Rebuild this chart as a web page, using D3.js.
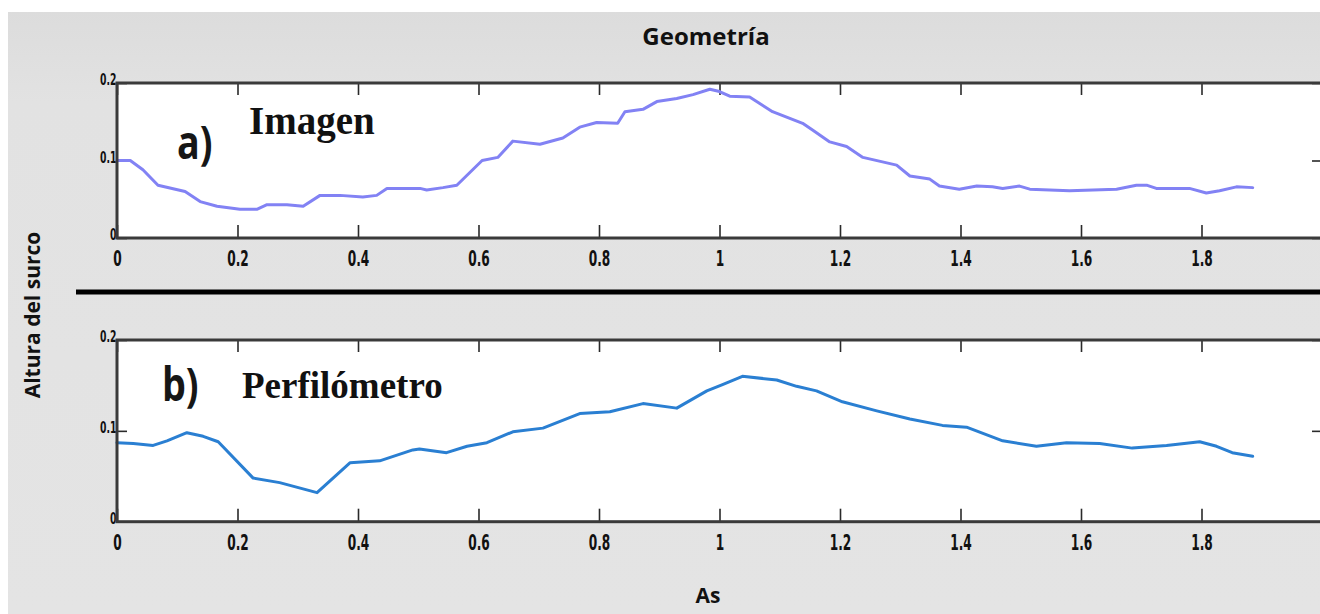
<!DOCTYPE html>
<html>
<head>
<meta charset="utf-8">
<script src="https://cdn.jsdelivr.net/npm/d3@7"></script>
<style>
  html, body { margin: 0; padding: 0; background: #ffffff; }
  svg { display: block; }
</style>
</head>
<body>
<svg id="chart" width="1320" height="614"></svg>
<script>
// ---------------- data ----------------
const xTicks = [0, 0.2, 0.4, 0.6, 0.8, 1, 1.2, 1.4, 1.6, 1.8];
const xTickLabels = ["0", "0.2", "0.4", "0.6", "0.8", "1", "1.2", "1.4", "1.6", "1.8"];
const yTicks = [0, 0.1, 0.2];
const yTickLabels = ["0", "0.1", "0.2"];

// a) Imagen
const imagenX = [0, 0.022, 0.043, 0.068, 0.113, 0.138, 0.166, 0.204, 0.232, 0.249, 0.282, 0.309,
  0.337, 0.370, 0.408, 0.431, 0.448, 0.503, 0.514, 0.541, 0.564, 0.606, 0.632, 0.657, 0.702,
  0.740, 0.768, 0.796, 0.831, 0.843, 0.873, 0.896, 0.929, 0.956, 0.984, 1.000, 1.017, 1.050,
  1.088, 1.138, 1.155, 1.183, 1.211, 1.238, 1.294, 1.316, 1.349, 1.365, 1.398, 1.427, 1.453,
  1.470, 1.498, 1.515, 1.581, 1.659, 1.692, 1.710, 1.725, 1.780, 1.808, 1.830, 1.858, 1.885];
const imagenY = [0.100, 0.100, 0.088, 0.068, 0.060, 0.047, 0.041, 0.037, 0.037, 0.043, 0.043, 0.041,
  0.055, 0.055, 0.053, 0.055, 0.064, 0.064, 0.062, 0.065, 0.068, 0.100, 0.104, 0.125, 0.121,
  0.129, 0.143, 0.149, 0.148, 0.163, 0.166, 0.176, 0.180, 0.185, 0.192, 0.189, 0.183, 0.182,
  0.163, 0.148, 0.139, 0.124, 0.118, 0.104, 0.094, 0.080, 0.076, 0.067, 0.063, 0.067, 0.066,
  0.064, 0.067, 0.063, 0.061, 0.063, 0.068, 0.068, 0.064, 0.064, 0.058, 0.061, 0.066, 0.065];

// b) Perfilómetro
const perfilX = [0, 0.027, 0.060, 0.083, 0.116, 0.143, 0.168, 0.226, 0.270, 0.332, 0.387, 0.436,
  0.491, 0.502, 0.547, 0.581, 0.614, 0.657, 0.707, 0.768, 0.818, 0.873, 0.929, 0.979, 1.005,
  1.038, 1.095, 1.128, 1.161, 1.204, 1.261, 1.316, 1.370, 1.410, 1.470, 1.526, 1.576, 1.631,
  1.685, 1.742, 1.797, 1.825, 1.851, 1.885];
const perfilY = [0.087, 0.086, 0.084, 0.089, 0.098, 0.094, 0.088, 0.048, 0.043, 0.032, 0.065, 0.067,
  0.079, 0.080, 0.076, 0.083, 0.087, 0.099, 0.103, 0.119, 0.121, 0.130, 0.125, 0.144, 0.151,
  0.160, 0.156, 0.149, 0.144, 0.132, 0.122, 0.113, 0.106, 0.104, 0.089, 0.083, 0.087, 0.086,
  0.081, 0.084, 0.088, 0.083, 0.076, 0.072];

const title = "Geometría";
const xTitle = "As";
const yTitle = "Altura del surco";

// ---------------- drawing ----------------
const svg = d3.select("#chart");
const W = 1320, H = 614;

svg.append("rect").attr("x", 0).attr("y", 0).attr("width", W).attr("height", H).attr("fill", "#ffffff");
const defs = svg.append("defs");
const grad = defs.append("linearGradient").attr("id", "bg").attr("x1", 0).attr("y1", 0).attr("x2", 0).attr("y2", 1);
grad.append("stop").attr("offset", "0%").attr("stop-color", "#dcdcdc");
grad.append("stop").attr("offset", "15%").attr("stop-color", "#e2e2e2");
grad.append("stop").attr("offset", "100%").attr("stop-color", "#e4e4e4");
svg.append("rect").attr("x", 8).attr("y", 12).attr("width", W - 8).attr("height", H - 12).attr("fill", "url(#bg)");

const x = d3.scaleLinear().domain([0, 2]).range([117, 1322]);

const panels = [
  { xs: imagenX, ys: imagenY, top: 83, bottom: 238, color: "#8282f4", tag: "a)", name: "Imagen",
    tagPos: [177, 159], namePos: [249, 134], nameSize: 39 },
  { xs: perfilX, ys: perfilY, top: 340, bottom: 521.7, color: "#2a7fd2", tag: "b)", name: "Perfilómetro",
    tagPos: [162, 401], namePos: [242, 398], nameSize: 37 }
];

const tickFont = "'DejaVu Sans', 'Liberation Sans', sans-serif";

panels.forEach(p => {
  const y = d3.scaleLinear().domain([0, 0.2]).range([p.bottom, p.top]);
  const g = svg.append("g");

  // plot background
  g.append("rect").attr("x", x(0)).attr("y", y(0.2)).attr("width", x(2) - x(0)).attr("height", y(0) - y(0.2))
    .attr("fill", "#ffffff");

  // bottom axis with labels
  const gb = g.append("g").attr("transform", `translate(0,${y(0)})`)
    .call(d3.axisBottom(x).tickValues(xTicks).tickFormat((d, i) => xTickLabels[i]).tickSize(-13).tickPadding(13));
  // top axis ticks
  const gt = g.append("g").attr("transform", `translate(0,${y(0.2)})`)
    .call(d3.axisTop(x).tickValues(xTicks).tickFormat("").tickSize(-12));
  // left axis
  const gl = g.append("g").attr("transform", `translate(${x(0)},0)`)
    .call(d3.axisLeft(y).tickValues(yTicks).tickFormat((d, i) => yTickLabels[i]).tickSize(-10).tickPadding(1));
  // right axis ticks
  const gr = g.append("g").attr("transform", `translate(${x(2)},0)`)
    .call(d3.axisRight(y).tickValues(yTicks).tickFormat("").tickSize(-10));

  [gb, gt, gl, gr].forEach(a => {
    a.select(".domain").remove();
    a.selectAll(".tick line").attr("stroke", "#2a2a2a").attr("stroke-width", 1.6);
  });
  gb.selectAll(".tick text")
    .attr("font-family", tickFont).attr("font-weight", "bold").attr("font-size", 21)
    .attr("fill", "#111").attr("transform", "scale(0.58,1)");
  gl.selectAll(".tick text")
    .attr("font-family", tickFont).attr("font-weight", "bold").attr("font-size", 16)
    .attr("dy", "0.12em")
    .attr("fill", "#111").attr("transform", "scale(0.58,1)");

  // series line
  const pts = p.xs.map((v, i) => [v, p.ys[i]]);
  g.append("path").datum(pts)
    .attr("fill", "none").attr("stroke", p.color).attr("stroke-width", 3)
    .attr("stroke-linejoin", "round").attr("stroke-linecap", "round")
    .attr("d", d3.line().x(d => x(d[0])).y(d => y(d[1])));

  // frame
  g.append("rect").attr("x", x(0)).attr("y", y(0.2)).attr("width", x(2) - x(0)).attr("height", y(0) - y(0.2))
    .attr("fill", "none").attr("stroke", "#3a3a3a").attr("stroke-width", 3);

  // annotations
  g.append("text").attr("x", p.tagPos[0]).attr("y", p.tagPos[1])
    .attr("font-family", "'Open Sans', sans-serif").attr("font-weight", "bold").attr("font-size", 46)
    .attr("fill", "#161616").attr("transform", `translate(${p.tagPos[0] * 0.18},0) scale(0.82,1)`)
    .text(p.tag);
  g.append("text").attr("x", p.namePos[0]).attr("y", p.namePos[1])
    .attr("font-family", "'Liberation Serif', 'DejaVu Serif', serif").attr("font-weight", "bold").attr("font-size", p.nameSize)
    .attr("fill", "#111")
    .text(p.name);
});

// separator
svg.append("line").attr("x1", 76).attr("x2", W).attr("y1", 292).attr("y2", 292)
  .attr("stroke", "#000").attr("stroke-width", 5);

// titles
svg.append("text").attr("x", 706).attr("y", 45).attr("text-anchor", "middle")
  .attr("font-family", "'Open Sans', sans-serif").attr("font-weight", "bold").attr("font-size", 24)
  .attr("fill", "#111").text(title);
svg.append("text").attr("x", 708).attr("y", 603).attr("text-anchor", "middle")
  .attr("font-family", "'Open Sans', sans-serif").attr("font-weight", "bold").attr("font-size", 21)
  .attr("fill", "#111").text(xTitle);
svg.append("text").attr("transform", "translate(40,315) rotate(-90)").attr("text-anchor", "middle")
  .attr("font-family", "'Open Sans', sans-serif").attr("font-weight", "bold").attr("font-size", 21)
  .attr("fill", "#111").text(yTitle);
</script>
</body>
</html>
